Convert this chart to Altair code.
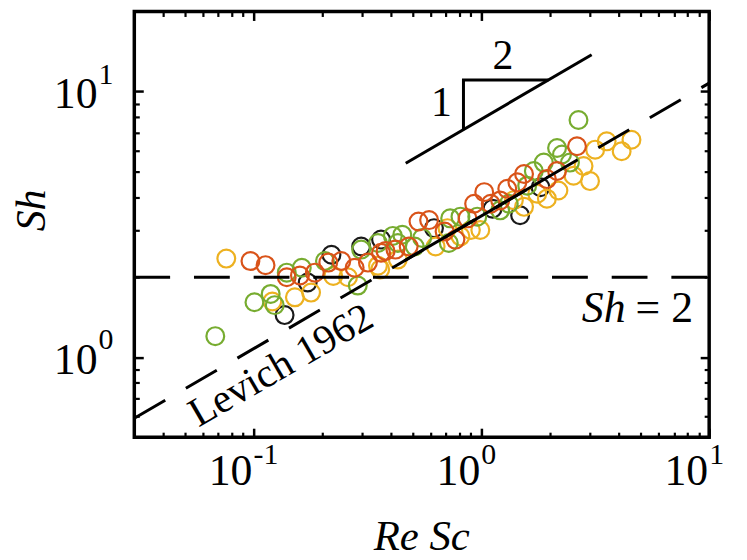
import altair as alt
import pandas as pd

# ---------------- data ----------------
black_x = [0.173, 0.137, 0.220, 0.297, 0.363, 1.82, 1.48, 1.12, 0.62]
black_y = [1.91, 1.44, 2.43, 2.61, 2.77, 4.36, 3.42, 3.62, 3.06]

green_x = [0.068, 0.140, 0.163, 0.101, 0.119, 0.124, 0.206, 0.297, 0.287, 0.352, 0.409,
           2.67, 2.15, 2.26, 2.45, 1.88, 1.70, 1.59, 1.32, 1.21,
           0.96, 0.81, 0.73, 0.72, 0.55, 0.51, 0.45, 0.43]
green_y = [1.20, 2.08, 2.17, 1.61, 1.73, 1.57, 2.30, 2.54, 1.86, 2.69, 2.86,
           7.81, 6.13, 5.79, 5.40, 5.40, 5.02, 4.42, 3.78, 3.57,
           3.38, 3.38, 3.33, 2.69, 2.81, 2.61, 2.89, 2.69]

red_x = [0.097, 0.113, 0.140, 0.160, 0.186, 0.213, 0.243, 0.278, 0.318, 0.363,
         2.63, 2.15, 1.94, 1.54, 1.44, 1.30, 1.21, 1.10, 1.03, 0.93,
         0.87, 0.77, 0.69, 0.59, 0.53, 0.48, 0.42, 0.38]
red_y = [2.30, 2.22, 2.00, 2.03, 2.08, 2.27, 2.30, 2.17, 2.27, 2.47,
         6.22, 5.02, 4.68, 4.89, 4.55, 4.30, 3.89, 3.78, 4.18, 3.78,
         3.33, 2.77, 2.97, 3.28, 3.24, 2.61, 2.54, 2.51]

yellow_x = [0.076, 0.121, 0.152, 0.179, 0.224, 0.260, 0.352,
            3.55, 4.56, 4.13, 3.16, 2.81, 2.54, 2.18, 1.94, 1.76, 1.54,
            0.99, 0.71, 0.63, 0.81, 0.90, 0.43, 0.36, 3.0, 1.39]
yellow_y = [2.35, 1.62, 1.68, 1.75, 2.02, 2.00, 2.21,
            6.49, 6.58, 5.96, 6.04, 5.24, 4.82, 4.24, 3.95, 4.12, 3.68,
            3.01, 3.06, 2.61, 2.85, 3.01, 2.33, 2.14, 4.6, 3.90]

# reference lines
dash_seg = ["sh2", "sh2", "lev", "lev"]
dash_x = [0.03, 10, 0.03, 10]
dash_y = [2, 2, 0.589, 10.75]

solid_seg = ["fit", "fit", "hyp", "hyp", "tri", "tri", "tri"]
solid_ord = [0, 1, 0, 1, 0, 1, 2]
solid_x = [0.46, 1.95, 0.466, 3.05, 0.835, 0.835, 1.97]
solid_y = [2.306, 4.748, 5.37, 13.74, 7.19, 11.05, 11.05]

# ticks
x_major = [0.1, 1, 10]
x_minor = [0.04, 0.05, 0.06, 0.07, 0.08, 0.09, 0.2, 0.3, 0.4, 0.5, 0.6, 0.7, 0.8, 0.9,
           2, 3, 4, 5, 6, 7, 8, 9]
y_major = [1, 10]
y_minor = [0.6, 0.7, 0.8, 0.9, 2, 3, 4, 5, 6, 7, 8, 9]
x_labels_exp = ["-1", "0", "1"]
y_labels_exp = ["0", "1"]

# ---------------- chart ----------------
W, H = 578, 428
SERIF = "Liberation Serif"
xs = alt.Scale(type="log", domain=[0.03, 10], nice=False)
ys = alt.Scale(type="log", domain=[0.5, 20], nice=False)


def X(f="x"):
    return alt.X(f"{f}:Q", scale=xs, axis=None)


def Y(f="y"):
    return alt.Y(f"{f}:Q", scale=ys, axis=None)


def scatter(xv, yv, color):
    df = pd.DataFrame({"x": xv, "y": yv})
    return alt.Chart(df).mark_point(shape="circle", filled=False, size=320,
                                    strokeWidth=2.2, color=color, opacity=1).encode(x=X(), y=Y())


layers = []

# inward ticks on all four sides: axes pulled inside the frame by a negative offset
anchor = pd.DataFrame({"x": [1.0], "y": [1.0]})


def tick_axis(vals, orient, L, sw):
    return alt.Axis(values=vals, orient=orient, offset=-L, tickSize=L, tickWidth=sw,
                    tickColor="black", ticks=True, labels=False, domain=False, grid=False,
                    title=None, zindex=1)


for xo, yo in [("bottom", "left"), ("top", "right")]:
    for xv, yv, L, sw in [(x_major, y_major, 9, 2.5), (x_minor, y_minor, 5, 2.2)]:
        layers.append(alt.Chart(anchor).mark_point(opacity=0).encode(
            x=alt.X("x:Q", scale=xs, axis=tick_axis(xv, xo, L, sw)),
            y=alt.Y("y:Q", scale=ys, axis=tick_axis(yv, yo, L, sw))))

layers.append(scatter(black_x, black_y, "#1a1a1a"))
layers.append(scatter(yellow_x, yellow_y, "#EDB120"))
layers.append(scatter(green_x, green_y, "#77AC30"))
layers.append(scatter(red_x, red_y, "#D95319"))

dash_df = pd.DataFrame({"seg": dash_seg, "x": dash_x, "y": dash_y})
layers.append(alt.Chart(dash_df).mark_line(color="black", strokeWidth=3, strokeDash=[36, 24]).encode(
    x=X(), y=Y(), detail="seg:N"))

solid_df = pd.DataFrame({"seg": solid_seg, "o": solid_ord, "x": solid_x, "y": solid_y})
layers.append(alt.Chart(solid_df).mark_line(color="black", strokeWidth=3).encode(
    x=X(), y=Y(), detail="seg:N", order="o:Q"))

# tick labels 10^n
xl = pd.DataFrame({"v": x_major, "e": x_labels_exp, "b": ["10"] * 3})
layers.append(alt.Chart(xl).mark_text(align="right", baseline="middle", dx=-1, font=SERIF,
                                      fontSize=44, color="black").encode(
    x=X("v"), y=alt.value(H + 35), text="b:N"))
layers.append(alt.Chart(xl).mark_text(align="left", baseline="middle", dx=0, font=SERIF,
                                      fontSize=30, color="black").encode(
    x=X("v"), y=alt.value(H + 18), text="e:N"))

yl = pd.DataFrame({"v": y_major, "e": y_labels_exp, "b": ["10"] * 2})
layers.append(alt.Chart(yl).mark_text(align="right", baseline="middle", dy=4, font=SERIF,
                                      fontSize=44, color="black").encode(
    y=Y("v"), x=alt.value(-37), text="b:N"))
layers.append(alt.Chart(yl).mark_text(align="left", baseline="middle", dy=-17, font=SERIF,
                                      fontSize=30, color="black").encode(
    y=Y("v"), x=alt.value(-36), text="e:N"))

one = pd.DataFrame({"a": [0]})
# axis titles
layers.append(alt.Chart(one).mark_text(font=SERIF, fontStyle="italic", fontSize=43, color="black",
                                       align="center", baseline="middle").encode(
    x=alt.value(W / 2), y=alt.value(H + 100), text=alt.value("Re Sc")))
layers.append(alt.Chart(one).mark_text(font=SERIF, fontStyle="italic", fontSize=42, color="black",
                                       align="center", baseline="middle", angle=270).encode(
    x=alt.value(-103), y=alt.value(200), text=alt.value("Sh")))

# annotations
ann = pd.DataFrame({"x": [0.1325], "y": [0.926], "t": ["Levich 1962"]})
layers.append(alt.Chart(ann).mark_text(font=SERIF, fontSize=41, color="black", align="center",
                                       baseline="middle", angle=330).encode(
    x=X(), y=Y(), text="t:N"))

sh_df = pd.DataFrame({"x": [2.76], "y": [1.36], "t": ["Sh"]})
layers.append(alt.Chart(sh_df).mark_text(font=SERIF, fontStyle="italic", fontSize=44, color="black",
                                         align="left", baseline="alphabetic").encode(
    x=X(), y=Y(), text="t:N"))
eq_df = pd.DataFrame({"x": [8.5], "y": [1.36], "t": ["=  2"]})
layers.append(alt.Chart(eq_df).mark_text(font=SERIF, fontSize=44, color="black",
                                         align="right", baseline="alphabetic").encode(
    x=X(), y=Y(), text="t:N"))

tri_df = pd.DataFrame({"x": [0.669, 1.244], "y": [9.03, 13.6], "t": ["1", "2"]})
layers.append(alt.Chart(tri_df).mark_text(font=SERIF, fontSize=42, color="black",
                                          align="center", baseline="middle").encode(
    x=X(), y=Y(), text="t:N"))

chart = alt.layer(*layers).resolve_axis(x="independent", y="independent").properties(
    width=W, height=H,
    autosize=alt.AutoSizeParams(type="none"),
    padding={"left": 127, "top": 2, "right": 30, "bottom": 122},
    background="white",
).configure_view(stroke="black", strokeWidth=3.5)

chart.save("out.html", embed_options={"renderer": "svg", "actions": False})
